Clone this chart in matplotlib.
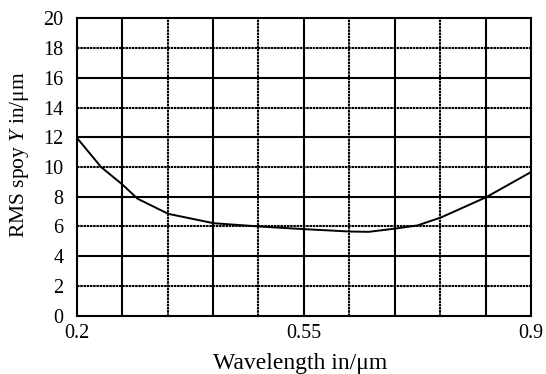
import matplotlib
matplotlib.use("Agg")
import numpy as np
from matplotlib import pyplot as plt

# values
wavelength = [0.200, 0.2375, 0.2707, 0.2937, 0.341, 0.411, 0.481, 0.551, 0.621, 0.650, 0.691, 0.725, 0.761, 0.831, 0.900]
rms_spot = [11.98, 10.0, 8.81, 7.87, 6.85, 6.22, 6.0, 5.82, 5.66, 5.64, 5.86, 6.07, 6.6, 7.97, 9.66]

x_ticks = [0.2, 0.55, 0.9]
x_tick_labels = ["0.2", "0.55", "0.9"]
y_ticks = list(range(0, 21, 2))

plt.rcParams['font.family'] = ['Liberation Serif', 'DejaVu Serif']
plt.rcParams['mathtext.fontset'] = 'custom'
plt.rcParams['mathtext.it'] = 'Liberation Serif:italic'
plt.rcParams['mathtext.rm'] = 'Liberation Serif'

W, H = 546, 374
fig = plt.figure(figsize=(W / 100, H / 100), dpi=100)
ax = fig.add_axes([76.7 / W, 1 - 315.7 / H, (531 - 76.7) / W, (315.7 - 18.3) / H])

ax.plot(wavelength, rms_spot, color='black', lw=1.4, zorder=3)

ax.set_xlim(0.2, 0.9)
ax.set_ylim(0, 20)
ax.set_xticks(x_ticks)
ax.set_xticklabels(x_tick_labels)
ax.set_yticks(y_ticks)
ax.tick_params(which='both', length=0, labelsize=14.5)
ax.tick_params(axis='x', pad=6)
ax.tick_params(axis='y', pad=9.5)

# grid: alternating solid / densely dotted lines like the scanned figure
dotted = (0, (1.2, 0.35))
for i, x in enumerate(np.linspace(0.2, 0.9, 11)[1:-1]):
    ls = '-' if i % 2 == 0 else dotted
    ax.axvline(x, color='black', lw=1.5, ls=ls, zorder=1)
for y in y_ticks[1:-1]:
    ls = '-' if (y // 2) % 2 == 0 else dotted
    ax.axhline(y, color='black', lw=1.5, ls=ls, zorder=1)

for s in ax.spines.values():
    s.set_linewidth(1.5)

fig.text(300 / W, 0.5 / H, "Wavelength in/\u03bcm", fontsize=17, ha='center', va='bottom')
fig.text(20 / W, 1 - 154.5 / H, "RMS spoy $Y$ in/\u03bcm", fontsize=15.5,
         rotation=90, ha='center', va='center')

fig.savefig("out.png", dpi=100)
